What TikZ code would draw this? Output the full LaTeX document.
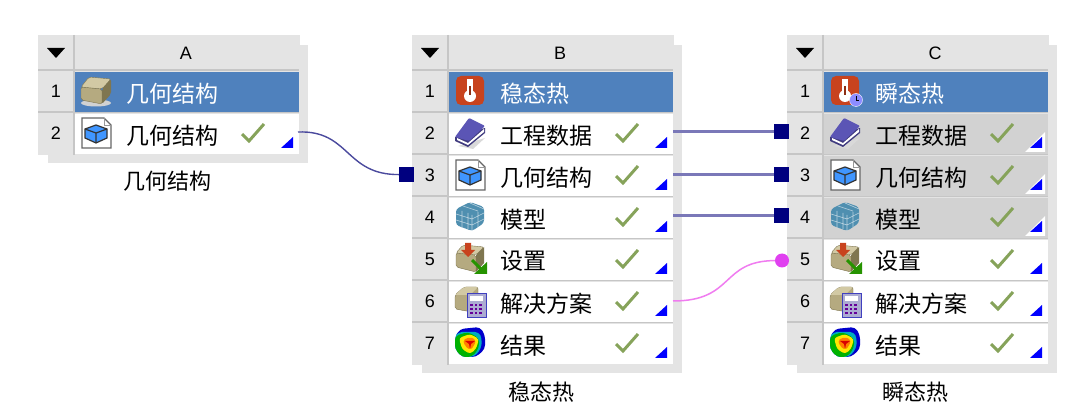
\documentclass[tikz,border=0pt]{standalone}
\usepackage{fontspec}
\newfontfamily\cjk{Noto Sans CJK SC}
\newfontfamily\latn{Liberation Sans}
\definecolor{panelgray}{HTML}{E4E4E4}
\definecolor{sepgray}{HTML}{C6C6C6}
\definecolor{usedgray}{HTML}{D2D2D2}
\definecolor{titleblue}{HTML}{4F81BD}
\definecolor{linkblue}{HTML}{00007F}
\definecolor{linkline}{HTML}{4B4A9E}
\definecolor{linkthick}{HTML}{7A78B8}
\definecolor{linkpink}{HTML}{F07CF0}
\definecolor{portpink}{HTML}{E040F0}
\definecolor{checkgreen}{HTML}{86A35A}
\definecolor{boxtan}{HTML}{B5AA80}
\definecolor{boxdark}{HTML}{7F7650}
\definecolor{boxlight}{HTML}{D2C9A4}
\definecolor{thermored}{HTML}{C8431E}
\definecolor{bookblue}{HTML}{5B55B5}
\definecolor{meshblue}{HTML}{4F8FB0}
\tikzset{
  x=1pt,y=-1pt,
  rowbox/.style={anchor=north west,inner sep=0pt,outer sep=0pt,minimum width=#1,minimum height=40pt},
  rowtext/.style={anchor=west,inner sep=0pt,font=\cjk\fontsize{23}{23}\selectfont},
  numtext/.style={inner sep=0pt,font=\latn\fontsize{18}{18}\selectfont},
  captext/.style={inner sep=0pt,font=\cjk\fontsize{22}{22}\selectfont},
  inport/.style={draw=none,fill=linkblue,minimum size=15pt,inner sep=0pt,outer sep=0pt},
  pinkport/.style={circle,fill=portpink,minimum size=14pt,inner sep=0pt,outer sep=0pt},
  pics/boxicon/.style={code={
    \fill[gray!35] (0,12) ellipse (15 and 3.5);
    \fill[boxtan,draw=boxdark,rounded corners=2pt] (-15,-4) -- (6,-2) -- (6,13) -- (-15,9) -- cycle;
    \fill[boxlight,draw=boxdark,rounded corners=2pt] (-15,-4) -- (-7,-14) -- (15,-12) -- (6,-2) -- cycle;
    \fill[boxdark,rounded corners=2pt] (6,-2) -- (15,-12) -- (15,3) -- (6,13) -- cycle;
  }},
  pics/thermoicon/.style={code={
    \fill[thermored,rounded corners=5pt] (-14,-15) rectangle (14,14);
    \fill[white] (-3,-12) rectangle (3,4);
    \fill[white] (0,5) circle (6);
    \fill[thermored!70!black] (-1,-5) rectangle (1,4);
  }},
  pics/clockicon/.style={code={
    \pic {thermoicon};
    \fill[blue!45!white,draw=white] (11,9) circle (6.5);
    \draw[black,thick] (11,5) -- (11,9) -- (14,9);
  }},
  pics/bookicon/.style={code={
    \fill[gray!30] (-12,13) -- (3,16) -- (15,5) -- cycle;
    \fill[bookblue!70!black] (-15,4) -- (-15,8) -- (-2,14) -- (15,0) -- (15,-5) -- cycle;
    \fill[white] (-13,5) -- (-2,10) -- (14,-4) -- (14,-1) -- (-2,12) -- (-13,7) -- cycle;
    \fill[bookblue,rounded corners=1pt] (-15,4) -- (-1,-15) -- (15,-7) -- (-1,8) -- cycle;
  }},
  pics/docicon/.style={code={
    \fill[white,draw=black!60,line width=1.3pt] (-14,-15) -- (8,-15) -- (15,-8) -- (15,15) -- (-14,15) -- cycle;
    \draw[black!40,line width=.8pt] (8,-15) -- (8,-8) -- (15,-8);
    \fill[blue!55!cyan!75] (0,-8) -- (11,-4) -- (11,5) -- (0,10) -- (-11,5) -- (-11,-4) -- cycle;
    \draw[black!80,line width=1.2pt] (0,-8) -- (11,-4) -- (11,5) -- (0,10) -- (-11,5) -- (-11,-4) -- cycle;
    \draw[black!80,line width=1.2pt] (-11,-4) -- (0,0) -- (11,-4) (0,0) -- (0,10);
  }},
  pics/meshicon/.style={code={
    \fill[meshblue,rounded corners=3pt] (-14,-8) -- (0,-15) -- (14,-10) -- (14,6) -- (2,14) -- (-14,8) -- cycle;
    \draw[white!60!meshblue,line width=.6pt] (-14,-3) -- (2,2) -- (14,-4) (-14,3) -- (2,8) -- (14,2)
      (-7,-11) -- (8,-6) (0,-14) -- (14,-8) (-8,-6) -- (-8,11) (-2,-4) -- (-2,12) (2,-2) -- (2,14) (8,-5) -- (8,10);
  }},
  pics/setupicon/.style={code={
    \fill[boxtan,draw=boxdark,rounded corners=2pt] (-14,-6) -- (6,-4) -- (6,13) -- (-14,8) -- cycle;
    \fill[boxlight,draw=boxdark,rounded corners=2pt] (-14,-6) -- (-7,-14) -- (14,-12) -- (6,-4) -- cycle;
    \fill[boxdark] (6,-4) -- (14,-12) -- (14,4) -- (6,13) -- cycle;
    \fill[thermored] (-5,-16) rectangle (1,-9) (-9,-9) -- (5,-9) -- (-2,-2) -- cycle;
    \draw[green!50!black!85!yellow,line width=3pt] (2,1) -- (11,10);
    \fill[green!50!black!85!yellow] (4,15) -- (17,15) -- (17,3) -- cycle;
  }},
  pics/calcicon/.style={code={
    \fill[boxtan,draw=boxdark,rounded corners=2pt] (-15,-6) -- (-6,-14) -- (8,-14) -- (8,12) -- (-15,8) -- cycle;
    \fill[boxlight,rounded corners=2pt] (-15,-6) -- (-6,-14) -- (8,-14) -- (0,-6) -- cycle;
    \fill[blue!30!gray!50!white,draw=blue!50!gray] (-3,-8) rectangle (16,16);
    \fill[white] (0,-5) rectangle (13,0);
    \foreach \cx in {0,4.5,9} \foreach \cy in {3,7,11} \fill[red!40!blue] (\cx,\cy) rectangle +(2.5,2);
  }},
  pics/resicon/.style={code={
    \fill[blue!80!black,rounded corners=4pt] (-10,-14) -- (10,-16) -- (15,-8) -- (15,6) -- (6,14) -- (-8,14) -- (-15,6) -- (-15,-6) -- cycle;
    \fill[cyan!70!green,rounded corners=4pt] (-12,-11) -- (9,-11) -- (12,-4) -- (11,6) -- (4,14) -- (-8,14) -- (-15,6) -- (-15,-6) -- cycle;
    \fill[green!70!black,rounded corners=4pt] (-15,-7) -- (-2,-11) -- (9,-5) -- (9,5) -- (2,14) -- (-8,14) -- (-15,6) -- cycle;
    \fill[yellow!90!orange,rounded corners=3pt] (-11,-5) -- (0,-9) -- (9,-4) -- (6,6) -- (0,11) -- (-8,6) -- cycle;
    \fill[orange,rounded corners=2pt] (-7,-3) -- (0,-6) -- (6,-3) -- (4,3) -- (0,7) -- (-5,3) -- cycle;
    \fill[red!85!black] (-5,-2) -- (5,-2) -- (1,1) -- (0,6) -- (-1,1) -- cycle;
  }},
  pics/okmark/.style={code={
    \draw[checkgreen,line width=3pt,line join=miter] (-11,1) -- (-4,8) -- (11,-9);
  }},
}
% one table frame: name, left x, number of rows, letter
\newcommand{\wbframe}[4]{
  \fill[panelgray] ({#2+10},45) rectangle ({#2+270},{79+42*#3});
  \fill[panelgray] (#2,35) rectangle ({#2+262},{71+42*#3});
  \draw[sepgray,line width=1.2pt] ({#2+36},35) -- ({#2+36},{71+42*#3});
  \fill[black] ({#2+9},48) -- ({#2+27},48) -- ({#2+18},58) -- cycle;
  \node[numtext] (#1head) at ({#2+148},53) {#4};
  \foreach \n in {1,...,#3} {
    \draw[sepgray,line width=1.5pt] (#2,{70+42*(\n-1)}) -- ({#2+261},{70+42*(\n-1)});
    \node[numtext] (#1num\n) at ({#2+18},{91+42*(\n-1)}) {\n};
  }
}
% one row: name, left x, row, fill, icon, text
\newcommand{\wbrow}[6]{
  \node[rowbox=224pt,fill=#4] (#1#3) at ({#2+37},{72+42*(#3-1)}) {};
  \pic at ({#2+58},{91+42*(#3-1)}) {#5};
  \node[rowtext] (#1txt#3) at ({#2+88},{93.5+42*(#3-1)}) {#6};
}
% check mark and blue corner of a row
\newcommand{\wbmark}[3]{
  \pic at ({#2+215},{91+42*(#3-1)}) {okmark};
  \fill[blue] ({#2+243},{106+42*(#3-1)}) -- ({#2+255},{106+42*(#3-1)}) -- ({#2+255},{95+42*(#3-1)}) -- cycle;
}
\begin{document}
\begin{tikzpicture}
\useasboundingbox (0,0) rectangle (1080,414);
\fill[white] (0,0) rectangle (1080,414);
%
\wbframe{a}{38}{2}{A}
\wbrow{a}{38}{1}{titleblue}{boxicon}{\color{white}几何结构}
\wbrow{a}{38}{2}{white}{docicon}{几何结构}
\wbmark{a}{38}{2}
\node[captext] (acap) at (167,181.5) {几何结构};
%
\wbframe{b}{412}{7}{B}
\wbrow{b}{412}{1}{titleblue}{thermoicon}{\color{white}稳态热}
\foreach \n/\ic/\t in {2/bookicon/工程数据, 3/docicon/几何结构, 4/meshicon/模型, 5/setupicon/设置, 6/calcicon/解决方案, 7/resicon/结果} {
  \wbrow{b}{412}{\n}{white}{\ic}{\t}
  \wbmark{b}{412}{\n}
}
\node[captext] (bcap) at (541,392) {稳态热};
%
\wbframe{c}{787}{7}{C}
\wbrow{c}{787}{1}{titleblue}{clockicon}{\color{white}瞬态热}
\foreach \n/\ic/\t in {2/bookicon/工程数据, 3/docicon/几何结构, 4/meshicon/模型} {
  \wbrow{c}{787}{\n}{usedgray}{\ic}{\t}
  \fill[white] ({787+238},{110+42*(\n-2)+42}) -- ({787+258},{110+42*(\n-2)+42}) -- ({787+258},{90+42*(\n-2)+42}) -- cycle;
  \wbmark{c}{787}{\n}
}
\foreach \n/\ic/\t in {5/setupicon/设置, 6/calcicon/解决方案, 7/resicon/结果} {
  \wbrow{c}{787}{\n}{white}{\ic}{\t}
  \wbmark{c}{787}{\n}
}
\node[captext] (ccap) at (915,392) {瞬态热};
%
\node[inport] (b3in) at (406.5,174.5) {};
\node[inport] (c2in) at (781.5,132) {};
\node[inport] (c3in) at (781.5,174.5) {};
\node[inport] (c4in) at (781.5,216) {};
\node[pinkport] (c5in) at (782,260.5) {};
\coordinate (a2out) at (298,132);
\coordinate (b6out) at (673,301);
\draw[linkline,line width=1.4pt] (a2out) .. controls (350,130) and (345,175) .. (b3in);
\foreach \n in {2,3,4} \draw[linkthick,line width=3pt] (b\n.east |- c\n in) -- (c\n in);
\draw[linkpink,line width=1.5pt] (b6out) .. controls (735,301) and (720,261) .. (c5in);
\end{tikzpicture}
\end{document}
